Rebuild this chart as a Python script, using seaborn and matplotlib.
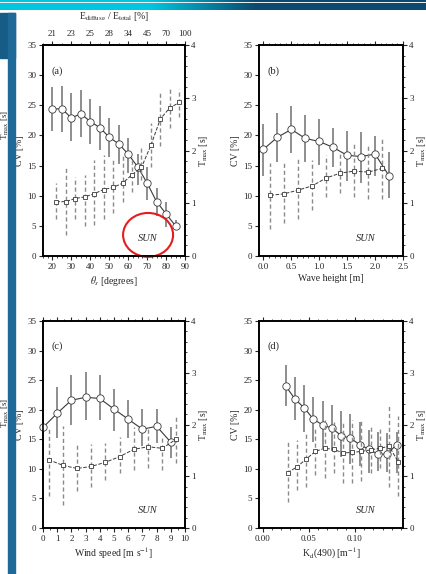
import numpy as np
import matplotlib
matplotlib.use("Agg")
import matplotlib.pyplot as plt
import seaborn as sns
from matplotlib.patches import Ellipse, Rectangle
from matplotlib.ticker import MultipleLocator, FormatStrFormatter

# (a) solar zenith angle
theta_cv_x = [20, 25, 30, 35, 40, 45, 50, 55, 60, 65, 70, 75, 80, 85]
theta_cv = [24.4, 24.4, 22.9, 23.6, 22.3, 21.3, 19.7, 18.6, 16.9, 14.8, 12.1, 9.0, 7.0, 5.0]
theta_cv_lo = [20.8, 20.5, 19.0, 19.8, 18.6, 17.6, 16.5, 15.3, 13.7, 11.8, 9.3, 6.6, 4.8, 4.3]
theta_cv_hi = [28.0, 28.2, 27.0, 27.5, 26.0, 24.8, 22.9, 21.8, 19.6, 16.9, 14.8, 11.2, 9.0, 5.9]
theta_t_x = [22, 27, 32, 37, 42, 47, 52, 57, 62, 67, 72, 77, 82, 87]
theta_t = [1.03, 1.03, 1.09, 1.12, 1.18, 1.26, 1.30, 1.38, 1.54, 1.68, 2.10, 2.60, 2.81, 2.91]
theta_t_lo = [0.70, 0.40, 0.71, 0.57, 0.59, 0.70, 0.82, 1.03, 1.22, 1.44, 1.69, 2.08, 2.42, 2.64]
theta_t_hi = [1.39, 1.69, 1.50, 1.54, 1.82, 1.91, 1.85, 1.91, 1.88, 2.04, 2.52, 3.10, 3.18, 3.16]
theta_top_pos = [20, 30, 40, 50, 60, 70, 80, 90]
ediff_labels = ["21", "23", "25", "28", "34", "45", "70", "100"]

# (b) wave height
wave_cv_x = [0.0, 0.25, 0.5, 0.75, 1.0, 1.25, 1.5, 1.75, 2.0, 2.25]
wave_cv = [17.7, 19.7, 21.0, 19.5, 19.0, 18.0, 16.7, 16.5, 16.9, 13.3]
wave_cv_lo = [13.3, 15.6, 17.1, 15.6, 15.1, 14.8, 12.4, 12.1, 13.3, 9.7]
wave_cv_hi = [21.9, 23.8, 24.8, 23.4, 22.8, 21.3, 20.8, 20.6, 19.9, 17.3]
wave_t_x = [0.125, 0.375, 0.625, 0.875, 1.125, 1.375, 1.625, 1.875, 2.125]
wave_t = [1.15, 1.18, 1.25, 1.33, 1.48, 1.57, 1.61, 1.59, 1.66]
wave_t_lo = [0.52, 0.63, 0.70, 0.88, 1.11, 1.20, 1.11, 1.09, 1.09]
wave_t_hi = [1.77, 1.76, 1.83, 1.82, 1.91, 2.00, 2.14, 2.12, 2.23]

# (c) wind speed
wind_cv_x = [0, 1, 2, 3, 4, 5, 6, 7, 8, 9]
wind_cv = [17.0, 19.4, 21.6, 22.1, 21.9, 20.1, 18.4, 16.7, 17.2, 14.5]
wind_cv_lo = [12.7, 15.2, 17.4, 18.2, 18.3, 16.4, 15.2, 13.8, 14.3, 11.8]
wind_cv_hi = [21.4, 23.8, 25.9, 26.3, 25.9, 23.5, 21.6, 20.1, 20.1, 17.0]
wind_t_x = [0.4, 1.4, 2.4, 3.4, 4.4, 5.4, 6.4, 7.4, 8.4, 9.4]
wind_t = [1.32, 1.21, 1.15, 1.19, 1.27, 1.38, 1.52, 1.57, 1.54, 1.72]
wind_t_lo = [0.61, 0.45, 0.71, 0.80, 0.93, 1.06, 1.13, 1.16, 1.13, 1.25]
wind_t_hi = [1.96, 1.97, 1.64, 1.63, 1.65, 1.76, 1.96, 1.93, 1.78, 2.17]

# (d) Kd(490)
kd_cv_x = [0.025, 0.035, 0.045, 0.055, 0.065, 0.075, 0.085, 0.095, 0.105, 0.115, 0.125, 0.135, 0.145]
kd_cv = [24.0, 21.8, 20.3, 18.4, 17.4, 16.9, 15.6, 15.2, 14.1, 13.3, 12.5, 12.5, 14.1]
kd_cv_lo = [20.7, 18.2, 16.3, 14.6, 13.5, 13.1, 12.0, 10.9, 10.4, 9.3, 9.6, 9.4, 9.3]
kd_cv_hi = [27.6, 25.5, 24.2, 22.2, 21.4, 20.8, 19.7, 19.3, 18.0, 16.6, 16.3, 16.0, 16.3]
kd_t_x = [0.027, 0.037, 0.047, 0.057, 0.067, 0.077, 0.087, 0.097, 0.107, 0.117, 0.127, 0.137, 0.147]
kd_t = [1.07, 1.18, 1.33, 1.48, 1.54, 1.52, 1.45, 1.46, 1.48, 1.51, 1.54, 1.58, 1.27]
kd_t_lo = [0.50, 0.73, 0.80, 1.03, 0.96, 1.06, 0.86, 0.87, 0.90, 1.07, 1.16, 0.79, 0.61]
kd_t_hi = [1.67, 1.70, 1.83, 1.93, 2.09, 2.04, 2.03, 2.09, 2.06, 1.99, 1.93, 2.35, 2.17]

sns.set_theme(style="ticks")
plt.rcParams['font.family'] = ['Liberation Serif', 'DejaVu Serif']
plt.rcParams['mathtext.fontset'] = 'stix'

LINE = "#3a3a3a"
EB_SOLID = "#707070"
EB_DASH = "#8a8a8a"
TICK_FS = 6.5
LAB_FS = 7


def style_axis(ax, spine_w=1.2):
    for s in ax.spines.values():
        s.set_linewidth(spine_w)
        s.set_color("black")


def draw_panel(ax, xc, cv, cv_lo, cv_hi, xt, tm, tm_lo, tm_hi,
               xlim, xmaj, xmin, xlabel, letter, top_labels=None):
    ax.vlines(xc, cv_lo, cv_hi, color=EB_SOLID, lw=1.1, zorder=2)
    sns.lineplot(x=xc, y=cv, ax=ax, color=LINE, lw=0.8, marker="o",
                 markersize=5.3, markerfacecolor="white",
                 markeredgecolor=LINE, markeredgewidth=0.6, zorder=3,
                 clip_on=False)
    ax.set_xlim(*xlim)
    ax.set_ylim(0, 35)
    ax.yaxis.set_major_locator(MultipleLocator(5))
    ax.xaxis.set_major_locator(MultipleLocator(xmaj))
    ax.xaxis.set_minor_locator(MultipleLocator(xmin))
    ax.set_xlabel(xlabel, fontsize=LAB_FS, labelpad=2)
    ax.set_ylabel("CV [%]", fontsize=LAB_FS, labelpad=2)
    ax.tick_params(axis="both", which="major", direction="out", length=3,
                   width=0.8, labelsize=TICK_FS, pad=2)
    ax.tick_params(axis="x", which="minor", direction="out", length=1.6,
                   width=0.6)
    if top_labels is None:
        ax.tick_params(axis="x", which="both", top=True, labeltop=False)
    style_axis(ax)

    ax2 = ax.twinx()
    ax2.vlines(xt, tm_lo, tm_hi, color=EB_DASH, lw=1.0,
               linestyles=(0, (3, 2)), zorder=2)
    sns.lineplot(x=xt, y=tm, ax=ax2, color=LINE, lw=0.7, linestyle="--",
                 marker="s", markersize=3.0, markerfacecolor="white",
                 markeredgecolor=LINE, markeredgewidth=0.6, zorder=3)
    ax2.set_ylim(0, 4)
    ax2.yaxis.set_major_locator(MultipleLocator(1))
    ax2.yaxis.set_minor_locator(MultipleLocator(0.2))
    ax2.set_ylabel("T$_{\\rm max}$ [s]", fontsize=LAB_FS, labelpad=1)
    ax2.tick_params(axis="y", which="major", direction="out", length=3,
                    width=0.8, labelsize=TICK_FS, pad=1.5)
    ax2.tick_params(axis="y", which="minor", direction="out", length=1.6,
                    width=0.6)
    style_axis(ax2)

    if top_labels is not None:
        sec = ax.secondary_xaxis("top")
        sec.set_xticks(top_labels[0], labels=top_labels[1])
        sec.xaxis.set_minor_locator(MultipleLocator(5))
        sec.tick_params(axis="x", which="major", direction="out", length=3,
                        width=0.8, labelsize=TICK_FS, pad=2)
        sec.tick_params(axis="x", which="minor", direction="out", length=1.6,
                        width=0.6)
        sec.set_xlabel("E$_{\\rm diffuse}$ / E$_{\\rm total}$ [%]",
                       fontsize=LAB_FS, labelpad=8)
        sec.spines["top"].set_linewidth(1.2)

    ax.text(0.10, 0.877, letter, transform=ax.transAxes, fontsize=7.5,
            ha="center", va="center")
    ax.text(0.74, 0.085, "SUN", transform=ax.transAxes, fontsize=7.5,
            style="italic", ha="center", va="center")
    return ax2


fig = plt.figure(figsize=(4.27, 5.74), dpi=100)
fig.patch.set_facecolor("white")

W, H = 427.0, 574.0
# slide decoration: top band and left strip
band = fig.add_axes([0, 1 - 10 / H, 1, 10 / H])
cols = np.linspace(0, 1, 427)
mix = np.clip((cols - 0.35) / 0.25, 0, 1)[None, :, None]
c1 = np.array([0.0, 0.78, 0.88])
c2 = np.array([0.04, 0.29, 0.44])
img = (1 - mix) * c1 + mix * c2
img = np.repeat(img, 10, axis=0)
img[2, :, :] = 0.92
band.imshow(img, aspect="auto", interpolation="nearest")
band.set_axis_off()
fig.patches.append(Rectangle((0, 1 - 58 / H), 15 / W, 45 / H,
                             transform=fig.transFigure, color="#175c86",
                             zorder=0))
fig.patches.append(Rectangle((8 / W, 0), 7 / W, 1 - 13 / H,
                             transform=fig.transFigure, color="#1d6a98",
                             zorder=0))
fig.text(5 / W, 1 - 125 / H, "T$_{\\rm max}$ [s]", rotation=90,
         fontsize=6.5, ha="center", va="center")
fig.text(5 / W, 1 - 413 / H, "T$_{\\rm max}$ [s]", rotation=90,
         fontsize=6.5, ha="center", va="center")

left_a, left_b = 43 / W, 259 / W
w_a, w_b = 142 / W, 144 / W
bot_top, h_top = (H - 256) / H, 211 / H
bot_bot, h_bot = (H - 528) / H, 207 / H

ax_a = fig.add_axes([left_a, bot_top, w_a, h_top])
ax_b = fig.add_axes([left_b, bot_top, w_b, h_top])
ax_c = fig.add_axes([left_a, bot_bot, w_a, h_bot])
ax_d = fig.add_axes([left_b, bot_bot, w_b, h_bot])

draw_panel(ax_a, theta_cv_x, theta_cv, theta_cv_lo, theta_cv_hi,
           theta_t_x, theta_t, theta_t_lo, theta_t_hi,
           (15, 90), 10, 2.5, "$\\theta_{s}$ [degrees]", "(a)",
           top_labels=(theta_top_pos, ediff_labels))
draw_panel(ax_b, wave_cv_x, wave_cv, wave_cv_lo, wave_cv_hi,
           wave_t_x, wave_t, wave_t_lo, wave_t_hi,
           (-0.08, 2.5), 0.5, 0.1, "Wave height [m]", "(b)")
ax_b.xaxis.set_major_formatter(FormatStrFormatter("%.1f"))
draw_panel(ax_c, wind_cv_x, wind_cv, wind_cv_lo, wind_cv_hi,
           wind_t_x, wind_t, wind_t_lo, wind_t_hi,
           (0, 10), 1, 0.5, "Wind speed [m s$^{-1}$]", "(c)")
draw_panel(ax_d, kd_cv_x, kd_cv, kd_cv_lo, kd_cv_hi,
           kd_t_x, kd_t, kd_t_lo, kd_t_hi,
           (-0.004, 0.152), 0.05, 0.01, "K$_{\\rm d}$(490) [m$^{-1}$]", "(d)")
ax_d.set_xticks([0.0, 0.05, 0.10])
ax_d.xaxis.set_minor_locator(MultipleLocator(0.01))
ax_d.xaxis.set_major_formatter(FormatStrFormatter("%.2f"))

# red circle around SUN in panel (a)
ax_a.add_patch(Ellipse((0.74, 0.10), 0.352, 0.208, transform=ax_a.transAxes,
                       fill=False, ec="#e41e1e", lw=1.5, clip_on=False,
                       zorder=10))

fig.savefig("out.png", dpi=100)
